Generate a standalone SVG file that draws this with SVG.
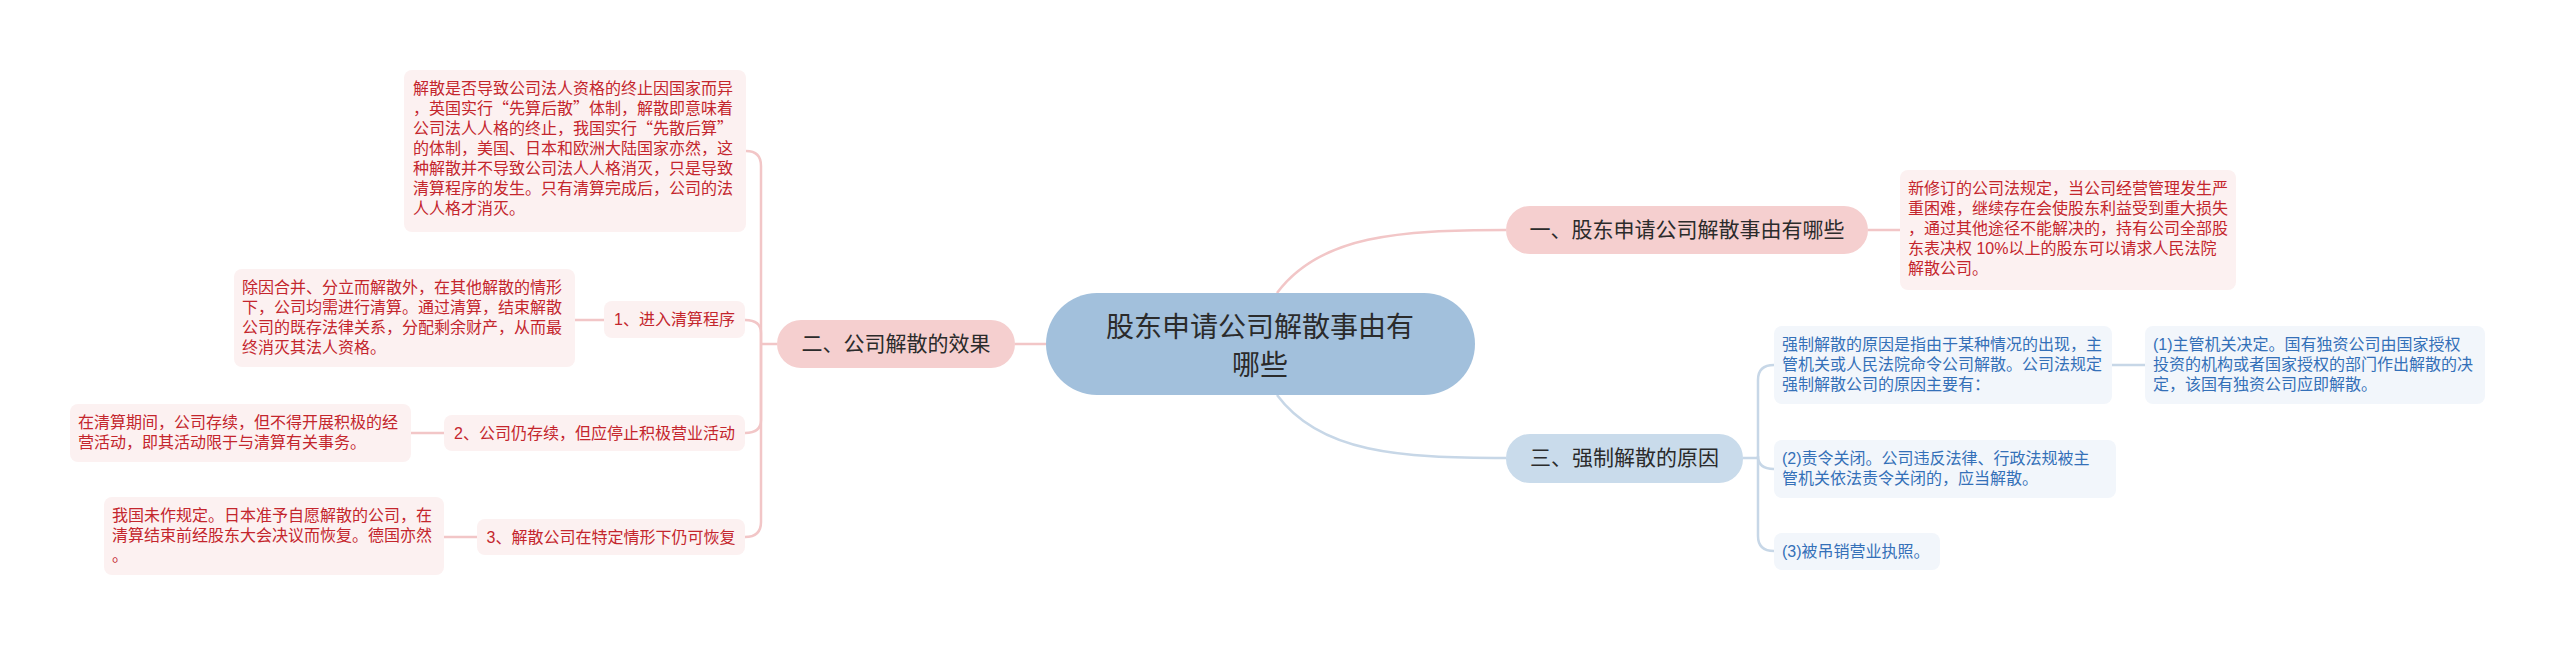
<svg xmlns="http://www.w3.org/2000/svg" width="2560" height="647" viewBox="0 0 2560 647">
<style>
text{font-family:"Liberation Sans","Noto Sans CJK SC",sans-serif}
.q{font-family:"Noto Sans CJK SC","Noto Sans CJK JP",sans-serif}
.root{fill:#a2c0dc}
.rt{font-size:28px;fill:#2b2b2b;text-anchor:middle}
.l1p{fill:#f5cfcf}
.l1b{fill:#c9dbeb}
.l1t{font-size:21px;fill:#2b2b2b;text-anchor:middle}
.bp{fill:#fcf1f1}
.bb{fill:#f2f6fb}
.tp{font-size:16px;fill:#c4262d}
.tb{font-size:16px;fill:#3470b8}
.cp{fill:none;stroke:#f2c6c7;stroke-width:2.5}
.cb{fill:none;stroke:#c7d7e7;stroke-width:2.5}
</style>
<rect width="2560" height="647" fill="#ffffff"/>
<g id="connectors">
<path class="cp" d="M1277,293 C1320,235 1400,230 1506,230"/>
<path class="cb" d="M1277,395 C1320,453 1400,458 1506,458"/>
<path class="cp" d="M1046,344 H1015"/>
<path class="cp" d="M1868,230 H1900"/>
<path class="cp" d="M777,344 H761"/>
<path class="cp" d="M761,344 V166 Q761,151 746,151"/>
<path class="cp" d="M761,344 V333 Q761,320 745,320"/>
<path class="cp" d="M761,344 V420 Q761,433 745,433"/>
<path class="cp" d="M761,344 V522 Q761,537 745,537"/>
<path class="cp" d="M604,320 H575"/>
<path class="cp" d="M444,433 H411"/>
<path class="cp" d="M477,537 H444"/>
<path class="cb" d="M1743,458 H1758"/>
<path class="cb" d="M1758,458 V380 Q1758,365 1774,365"/>
<path class="cb" d="M1758,458 V456 Q1758,469 1774,469"/>
<path class="cb" d="M1758,458 V536 Q1758,551 1774,551"/>
<path class="cb" d="M2112,365 H2145"/>
</g>
<g id="root">
<rect class="root" x="1046" y="293" width="429" height="102" rx="51"/>
<text class="rt" x="1260" y="337">股东申请公司解散事由有</text>
<text class="rt" x="1260" y="375">哪些</text>
</g>
<g id="n1">
<rect class="l1p" x="1506" y="206" width="362" height="48" rx="24"/>
<text class="l1t" x="1687" y="237">一、股东申请公司解散事由有哪些</text>
</g>
<g id="n1a">
<rect class="bp" x="1900" y="170" width="336" height="120" rx="8"/>
<text class="tp" x="1908" y="194">新修订的公司法规定，当公司经营管理发生严</text>
<text class="tp" x="1908" y="214">重困难，继续存在会使股东利益受到重大损失</text>
<text class="tp" x="1908" y="234">，通过其他途径不能解决的，持有公司全部股</text>
<text class="tp" x="1908" y="254">东表决权 10%以上的股东可以请求人民法院</text>
<text class="tp" x="1908" y="274">解散公司。</text>
</g>
<g id="n2">
<rect class="l1p" x="777" y="320" width="238" height="48" rx="24"/>
<text class="l1t" x="896" y="351">二、公司解散的效果</text>
</g>
<g id="n2a">
<rect class="bp" x="404" y="70" width="342" height="162" rx="8"/>
<text class="tp" x="413" y="94">解散是否导致公司法人资格的终止因国家而异</text>
<text class="tp q" x="413" y="114">，英国实行“先算后散”体制，解散即意味着</text>
<text class="tp q" x="413" y="134">公司法人人格的终止，我国实行“先散后算”</text>
<text class="tp" x="413" y="154">的体制，美国、日本和欧洲大陆国家亦然，这</text>
<text class="tp" x="413" y="174">种解散并不导致公司法人人格消灭，只是导致</text>
<text class="tp" x="413" y="194">清算程序的发生。只有清算完成后，公司的法</text>
<text class="tp" x="413" y="214">人人格才消灭。</text>
</g>
<g id="n2b">
<rect class="bp" x="604" y="301" width="141" height="37" rx="8"/>
<text class="tp" x="674.5" y="325" text-anchor="middle">1、进入清算程序</text>
</g>
<g id="n2b1">
<rect class="bp" x="234" y="269" width="341" height="98" rx="8"/>
<text class="tp" x="242" y="293">除因合并、分立而解散外，在其他解散的情形</text>
<text class="tp" x="242" y="313">下，公司均需进行清算。通过清算，结束解散</text>
<text class="tp" x="242" y="333">公司的既存法律关系，分配剩余财产，从而最</text>
<text class="tp" x="242" y="353">终消灭其法人资格。</text>
</g>
<g id="n2c">
<rect class="bp" x="444" y="415" width="301" height="36" rx="8"/>
<text class="tp" x="594.5" y="439" text-anchor="middle">2、公司仍存续，但应停止积极营业活动</text>
</g>
<g id="n2c1">
<rect class="bp" x="70" y="404" width="341" height="58" rx="8"/>
<text class="tp" x="78" y="428">在清算期间，公司存续，但不得开展积极的经</text>
<text class="tp" x="78" y="448">营活动，即其活动限于与清算有关事务。</text>
</g>
<g id="n2d">
<rect class="bp" x="477" y="519" width="268" height="36" rx="8"/>
<text class="tp" x="611" y="543" text-anchor="middle">3、解散公司在特定情形下仍可恢复</text>
</g>
<g id="n2d1">
<rect class="bp" x="104" y="497" width="340" height="78" rx="8"/>
<text class="tp" x="112" y="521">我国未作规定。日本准予自愿解散的公司，在</text>
<text class="tp" x="112" y="541">清算结束前经股东大会决议而恢复。德国亦然</text>
<text class="tp" x="112" y="561">。</text>
</g>
<g id="n3">
<rect class="l1b" x="1506" y="434" width="237" height="49" rx="24"/>
<text class="l1t" x="1624.5" y="465">三、强制解散的原因</text>
</g>
<g id="n3a">
<rect class="bb" x="1774" y="326" width="338" height="78" rx="8"/>
<text class="tb" x="1782" y="350">强制解散的原因是指由于某种情况的出现，主</text>
<text class="tb" x="1782" y="370">管机关或人民法院命令公司解散。公司法规定</text>
<text class="tb" x="1782" y="390">强制解散公司的原因主要有：</text>
</g>
<g id="n3a1">
<rect class="bb" x="2145" y="326" width="340" height="78" rx="8"/>
<text class="tb" x="2153" y="350">(1)主管机关决定。国有独资公司由国家授权</text>
<text class="tb" x="2153" y="370">投资的机构或者国家授权的部门作出解散的决</text>
<text class="tb" x="2153" y="390">定，该国有独资公司应即解散。</text>
</g>
<g id="n3b">
<rect class="bb" x="1774" y="440" width="342" height="58" rx="8"/>
<text class="tb" x="1782" y="464">(2)责令关闭。公司违反法律、行政法规被主</text>
<text class="tb" x="1782" y="484">管机关依法责令关闭的，应当解散。</text>
</g>
<g id="n3c">
<rect class="bb" x="1774" y="533" width="166" height="37" rx="8"/>
<text class="tb" x="1782" y="557">(3)被吊销营业执照。</text>
</g>
</svg>
